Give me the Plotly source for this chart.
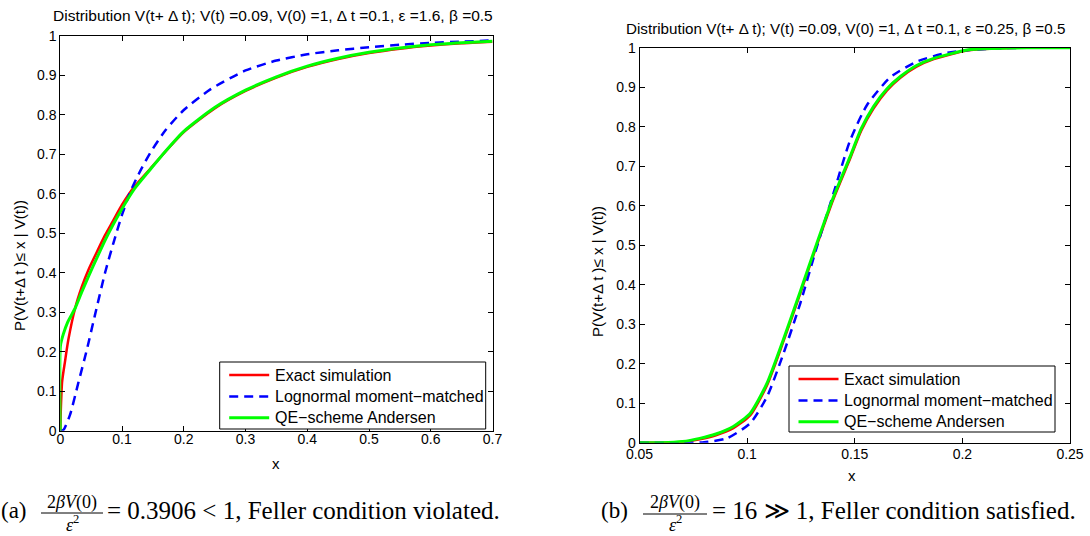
import plotly.graph_objects as go

# ---------------- data: panel (a) ----------------
a_x_exact = [0, 0.001, 0.003, 0.0076, 0.013, 0.024, 0.035, 0.0455, 0.06, 0.0725, 0.085, 0.1, 0.12,
             0.145, 0.17, 0.2, 0.25, 0.3, 0.35, 0.4, 0.45, 0.5, 0.55, 0.6, 0.65, 0.7]
a_y_exact = [0, 0.06, 0.125, 0.175, 0.23, 0.31, 0.365, 0.407, 0.455, 0.495, 0.53, 0.572, 0.618,
             0.662, 0.706, 0.756, 0.816, 0.86, 0.894, 0.921, 0.941, 0.956, 0.967, 0.975, 0.981, 0.985]

a_x_logn = [0, 0.005, 0.0157, 0.029, 0.043, 0.056, 0.0725, 0.086, 0.0996, 0.113, 0.127, 0.1455,
            0.17, 0.2, 0.243, 0.3, 0.35, 0.4, 0.45, 0.5, 0.55, 0.6, 0.65, 0.7]
a_y_logn = [0, 0.002, 0.04, 0.12, 0.205, 0.292, 0.40, 0.475, 0.545, 0.603, 0.65, 0.703,
            0.76, 0.812, 0.864, 0.912, 0.937, 0.953, 0.963, 0.971, 0.977, 0.982, 0.985, 0.988]

a_x_qe = [0, 0.0002, 0.005, 0.012, 0.024, 0.035, 0.0455, 0.06, 0.0725, 0.085, 0.1, 0.12, 0.145,
          0.17, 0.2, 0.25, 0.3, 0.35, 0.4, 0.45, 0.5, 0.55, 0.6, 0.65, 0.7]
a_y_qe = [0, 0.215, 0.245, 0.275, 0.31, 0.352, 0.39, 0.44, 0.482, 0.52, 0.562, 0.612, 0.66,
          0.707, 0.758, 0.818, 0.862, 0.896, 0.923, 0.943, 0.958, 0.969, 0.977, 0.982, 0.986]

# ---------------- data: panel (b) ----------------
b_x_exact = [0.05, 0.06, 0.07, 0.078, 0.0855, 0.0936, 0.1014, 0.1092, 0.1169, 0.1247, 0.1324,
             0.1401, 0.1479, 0.153, 0.1587, 0.165, 0.1712, 0.1787, 0.1867, 0.2022, 0.215, 0.23, 0.25]
b_y_exact = [0, 0.0, 0.002, 0.009, 0.019, 0.037, 0.069, 0.145, 0.257, 0.378, 0.5,
             0.617, 0.72, 0.79, 0.846, 0.892, 0.924, 0.952, 0.971, 0.993, 0.998, 1.0, 1.0]

b_x_logn = [0.05, 0.07, 0.08, 0.0906, 0.1014, 0.1092, 0.1169, 0.1247, 0.1324, 0.1401, 0.1479,
            0.1557, 0.1665, 0.1789, 0.1929, 0.205, 0.22, 0.25]
b_y_logn = [0, 0, 0.001, 0.011, 0.049, 0.116, 0.226, 0.353, 0.496, 0.631, 0.766,
            0.855, 0.925, 0.965, 0.987, 0.995, 0.999, 1.0]

b_x_qe = [0.05, 0.06, 0.07, 0.078, 0.0855, 0.0936, 0.1014, 0.1092, 0.1169, 0.1247, 0.1324,
          0.1401, 0.1479, 0.153, 0.1587, 0.165, 0.1712, 0.1787, 0.1867, 0.2022, 0.215, 0.23, 0.25]
b_y_qe = [0, 0.0, 0.003, 0.011, 0.022, 0.041, 0.074, 0.15, 0.262, 0.383, 0.505,
          0.622, 0.725, 0.795, 0.851, 0.896, 0.927, 0.955, 0.973, 0.994, 0.998, 1.0, 1.0]

series_names = ["Exact simulation", "Lognormal moment\u2212matched", "QE\u2212scheme Andersen"]

a_xticks = [0, 0.1, 0.2, 0.3, 0.4, 0.5, 0.6, 0.7]
a_xticklabels = ["0", "0.1", "0.2", "0.3", "0.4", "0.5", "0.6", "0.7"]
b_xticks = [0.05, 0.1, 0.15, 0.2, 0.25]
b_xticklabels = ["0.05", "0.1", "0.15", "0.2", "0.25"]
yticks = [0, 0.1, 0.2, 0.3, 0.4, 0.5, 0.6, 0.7, 0.8, 0.9, 1]
yticklabels = ["0", "0.1", "0.2", "0.3", "0.4", "0.5", "0.6", "0.7", "0.8", "0.9", "1"]

title_a = "Distribution V(t+ \u0394 t); V(t) =0.09, V(0) =1, \u0394 t =0.1, \u03b5 =1.6, \u03b2 =0.5"
title_b = "Distribution V(t+ \u0394 t); V(t) =0.09, V(0) =1, \u0394 t =0.1, \u03b5 =0.25, \u03b2 =0.5"
ylabel = "P(V(t+\u0394 t )\u2264 x | V(t))"

# ---------------- figure ----------------
W, H = 1090, 536
SANS = "Liberation Sans, Arial, sans-serif"
SERIF = "Liberation Serif, Times New Roman, serif"

def px(x):
    return x / W

def py(y):
    return 1 - y / H

fig = go.Figure()

RED, BLUE, GREEN = "#ff0000", "#0000ff", "#00ff00"
DASH = "9px,6px"
STYLES = [dict(color=RED, width=2.5), dict(color=BLUE, width=2.5, dash=DASH),
          dict(color=GREEN, width=3)]

def add_panel(xs, ys, xa, ya):
    for (x, y), name, st in zip(zip(xs, ys), series_names, STYLES):
        fig.add_trace(go.Scatter(x=x, y=y, mode="lines", name=name,
                                 line=dict(shape="spline", smoothing=0.6, **st),
                                 xaxis=xa, yaxis=ya, showlegend=False))

add_panel([a_x_exact, a_x_logn, a_x_qe], [a_y_exact, a_y_logn, a_y_qe], "x", "y")
add_panel([b_x_exact, b_x_logn, b_x_qe], [b_y_exact, b_y_logn, b_y_qe], "x2", "y2")

axis_common = dict(showline=True, linecolor="black", linewidth=1, mirror="ticks",
                   ticks="inside", ticklen=5, tickcolor="black", tickwidth=1,
                   showgrid=False, zeroline=False, automargin=False,
                   tickfont=dict(family=SANS, size=14, color="black"))

fig.update_layout(
    width=W, height=H,
    margin=dict(l=0, r=0, t=0, b=0, pad=0, autoexpand=False),
    paper_bgcolor="white", plot_bgcolor="white",
    xaxis=dict(domain=[px(60.3), px(492.5)], range=[0, 0.7], tickvals=a_xticks,
               ticktext=a_xticklabels, anchor="y", ticklabelstandoff=-5, **axis_common),
    yaxis=dict(domain=[py(430.7), py(35.7)], range=[0, 1], tickvals=yticks,
               ticktext=yticklabels, anchor="x", **axis_common),
    xaxis2=dict(domain=[px(639.5), px(1070)], range=[0.05, 0.25], tickvals=b_xticks,
                ticktext=b_xticklabels, anchor="y2", ticklabelstandoff=-2, **axis_common),
    yaxis2=dict(domain=[py(442.7), py(47.7)], range=[0, 1], tickvals=yticks,
                ticktext=yticklabels, anchor="x2", **axis_common),
    showlegend=False,
)

def ann(text, x, y, size=14, family=SANS, xanchor="center", yanchor="middle", angle=0):
    fig.add_annotation(text=text, x=px(x), y=py(y), xref="paper", yref="paper",
                       showarrow=False, xanchor=xanchor, yanchor=yanchor, textangle=angle,
                       borderpad=0, font=dict(family=family, size=size, color="black"))

def line(x0, y0, x1, y1, **kw):
    fig.add_shape(type="line", xref="paper", yref="paper", x0=px(x0), x1=px(x1),
                  y0=py(y0), y1=py(y1), line=kw)

# legends (MATLAB-style boxes)
def legend_box(left, top, right, bottom):
    fig.add_shape(type="rect", xref="paper", yref="paper", x0=px(left), x1=px(right),
                  y0=py(bottom), y1=py(top), line=dict(color="black", width=1),
                  fillcolor="white", layer="above")
    rows = [top + 13, top + 34.5, top + 55.8]
    for yy, name, st in zip(rows, series_names, STYLES):
        line(left + 9.5, yy, left + 49.5, yy, **st)
        ann(name, left + 54, yy, size=16, xanchor="left")

legend_box(219.7, 362, 485.7, 429)
legend_box(789, 366, 1055, 432)

# titles
ann(title_a, 273, 15, size=15.5)
ann(title_b, 845, 28, size=15.2)
# axis labels
ann("x", 276, 463, size=15)
ann("x", 852, 475, size=15)
ann(ylabel, 20, 266, size=15, angle=-90)
ann(ylabel, 597, 272, size=15, angle=-90)

# captions
CAP = 25
FR = 18
ann("(a)", 0, 510, size=23, family=SERIF, xanchor="left")
ann("2<i>\u03b2V</i>(0)", 72, 502, size=FR, family=SERIF)
ann("<i>\u03b5</i><sup>2</sup>", 72, 523, size=FR, family=SERIF)
ann("= 0.3906 &lt; 1, Feller condition violated.", 106, 510, size=CAP, family=SERIF, xanchor="left")
line(41, 513, 103, 513, color="black", width=1)

ann("(b)", 600, 510, size=23, family=SERIF, xanchor="left")
ann("2<i>\u03b2V</i>(0)", 675, 502, size=FR, family=SERIF)
ann("<i>\u03b5</i><sup>2</sup>", 675, 523, size=FR, family=SERIF)
ann("= 16 \u226b 1, Feller condition satisfied.", 711, 510, size=CAP, family=SERIF, xanchor="left")
line(643, 514, 707, 514, color="black", width=1)

fig.write_html("out.html")
